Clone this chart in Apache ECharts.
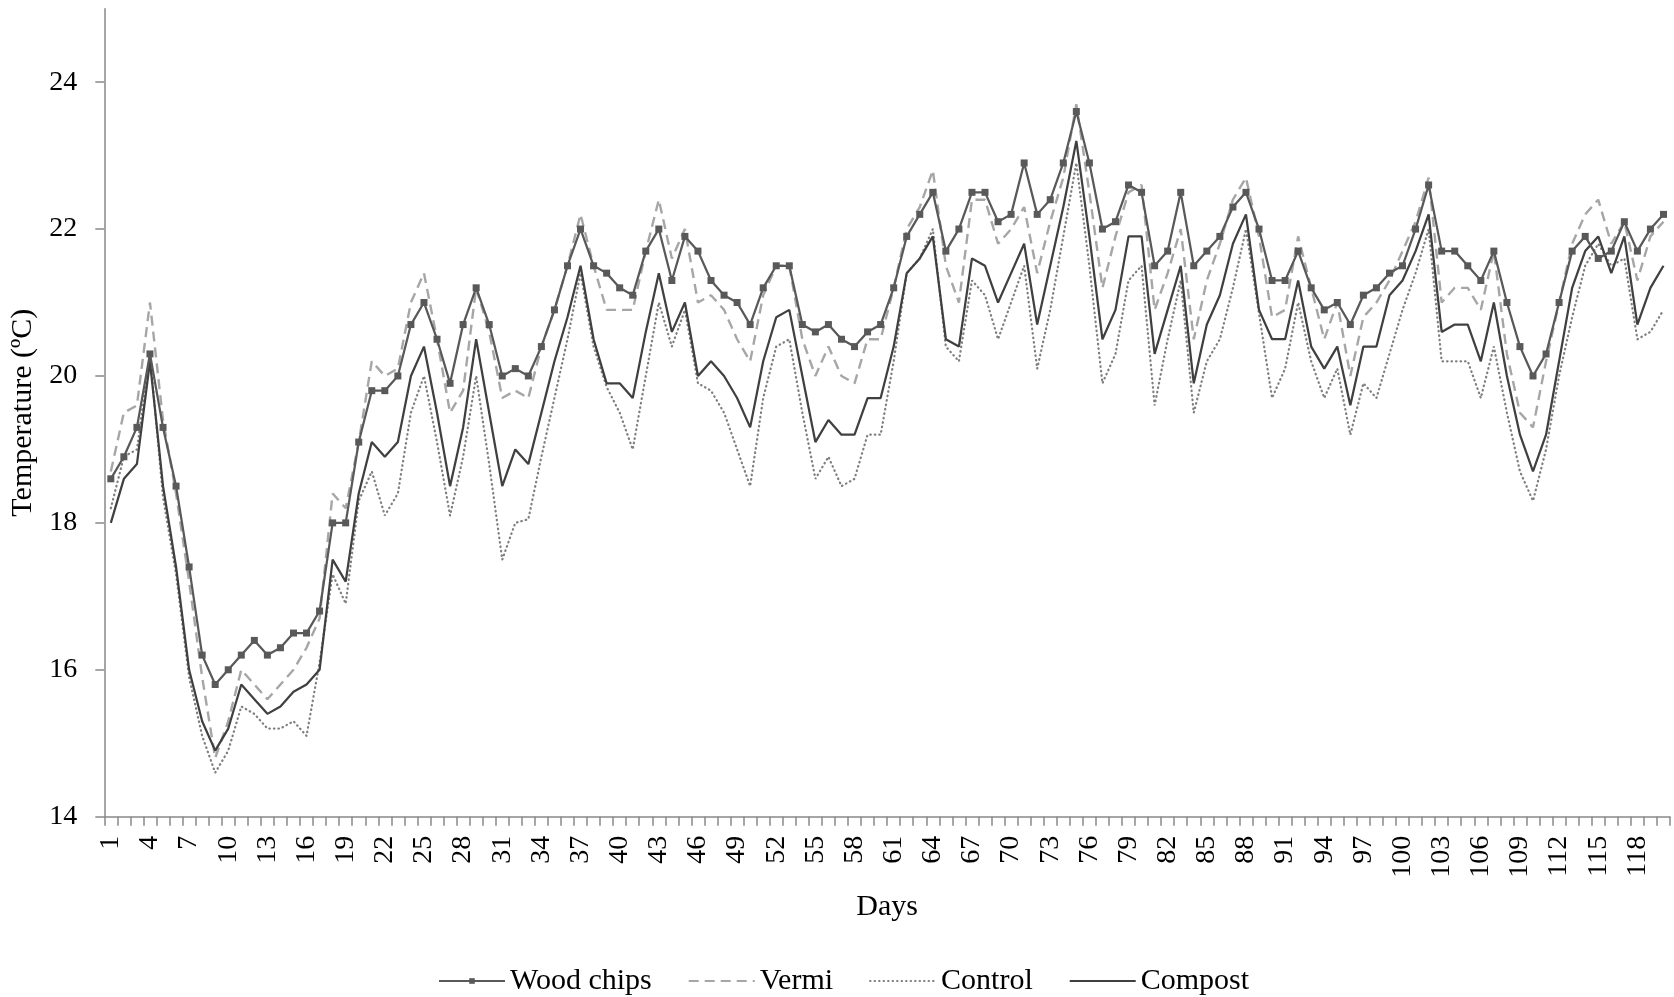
<!DOCTYPE html>
<html>
<head>
<meta charset="utf-8">
<title>Temperature by treatment</title>
<script src="https://cdn.jsdelivr.net/npm/echarts@6/dist/echarts.min.js"></script>
<style>
  html, body { margin: 0; padding: 0; background: #ffffff; }
  #chart { width: 1674px; height: 997px; }
</style>
</head>
<body>
<div id="chart"></div>
<script>
// Day numbers along the horizontal axis (1..120)
const days = Array.from({ length: 120 }, (_, i) => String(i + 1));

// Temperature tick labels on the vertical axis
const tempTicks = [14, 16, 18, 20, 22, 24];

// Daily mean temperature (°C) for each treatment
const woodChips = [
  18.6, 18.9, 19.3, 20.3, 19.3, 18.5, 17.4, 16.2, 15.8, 16.0,
  16.2, 16.4, 16.2, 16.3, 16.5, 16.5, 16.8, 18.0, 18.0, 19.1,
  19.8, 19.8, 20.0, 20.7, 21.0, 20.5, 19.9, 20.7, 21.2, 20.7,
  20.0, 20.1, 20.0, 20.4, 20.9, 21.5, 22.0, 21.5, 21.4, 21.2,
  21.1, 21.7, 22.0, 21.3, 21.9, 21.7, 21.3, 21.1, 21.0, 20.7,
  21.2, 21.5, 21.5, 20.7, 20.6, 20.7, 20.5, 20.4, 20.6, 20.7,
  21.2, 21.9, 22.2, 22.5, 21.7, 22.0, 22.5, 22.5, 22.1, 22.2,
  22.9, 22.2, 22.4, 22.9, 23.6, 22.9, 22.0, 22.1, 22.6, 22.5,
  21.5, 21.7, 22.5, 21.5, 21.7, 21.9, 22.3, 22.5, 22.0, 21.3,
  21.3, 21.7, 21.2, 20.9, 21.0, 20.7, 21.1, 21.2, 21.4, 21.5,
  22.0, 22.6, 21.7, 21.7, 21.5, 21.3, 21.7, 21.0, 20.4, 20.0,
  20.3, 21.0, 21.7, 21.9, 21.6, 21.7, 22.1, 21.7, 22.0, 22.2
];

const vermi = [
  18.7, 19.5, 19.6, 21.0, 19.4, 18.4, 17.2, 15.9, 14.8, 15.3,
  16.0, 15.8, 15.6, 15.8, 16.0, 16.3, 16.7, 18.4, 18.2, 19.1,
  20.2, 20.0, 20.1, 21.0, 21.4, 20.5, 19.5, 19.8, 21.2, 20.6,
  19.7, 19.8, 19.7, 20.4, 20.9, 21.5, 22.2, 21.5, 20.9, 20.9,
  20.9, 21.7, 22.4, 21.6, 22.0, 21.0, 21.1, 20.9, 20.5, 20.2,
  21.1, 21.5, 21.5, 20.5, 20.0, 20.4, 20.0, 19.9, 20.5, 20.5,
  21.2, 22.0, 22.3, 22.8, 21.5, 21.0, 22.4, 22.4, 21.8, 22.0,
  22.3, 21.4, 22.1, 22.7, 23.7, 22.5, 21.2, 21.9, 22.5, 22.6,
  20.9, 21.4, 22.0, 20.5, 21.3, 21.8, 22.4, 22.7, 21.9, 20.8,
  20.9, 21.9, 21.2, 20.5, 21.0, 20.0, 20.8, 21.0, 21.3, 21.7,
  22.1, 22.7, 21.0, 21.2, 21.2, 20.9, 21.7, 20.3, 19.5, 19.3,
  20.2, 21.0, 21.8, 22.2, 22.4, 21.8, 22.1, 21.3, 21.9, 22.1
];

const control = [
  18.2, 18.9, 19.0, 20.3, 18.35, 17.3, 15.9, 15.1, 14.6, 14.9,
  15.5, 15.4, 15.2, 15.2, 15.3, 15.1, 16.1, 17.3, 16.9, 18.3,
  18.7, 18.1, 18.4, 19.5, 20.0, 19.1, 18.1, 18.9, 20.0, 18.8,
  17.5, 18.0, 18.05, 18.9, 19.7, 20.5, 21.4, 20.4, 19.85, 19.5,
  19.0, 20.0, 21.0, 20.4, 20.9, 19.9, 19.8, 19.5, 19.0, 18.5,
  19.7, 20.4, 20.5, 19.5, 18.6, 18.9, 18.5, 18.6, 19.2, 19.2,
  20.2, 21.4, 21.6, 22.0, 20.4, 20.2, 21.3, 21.1, 20.5, 21.0,
  21.5, 20.1, 20.9, 21.9, 22.9, 21.5, 19.9, 20.3, 21.3, 21.5,
  19.6, 20.5, 21.3, 19.5, 20.2, 20.5, 21.2, 22.0, 20.85, 19.7,
  20.1, 21.0, 20.2, 19.7, 20.1, 19.2, 19.9, 19.7, 20.3, 20.9,
  21.4, 22.0, 20.2, 20.2, 20.2, 19.7, 20.4, 19.5, 18.7, 18.3,
  19.0, 20.0, 20.8, 21.5, 21.8, 21.5, 21.6, 20.5, 20.6, 20.9
];

const compost = [
  18.0, 18.6, 18.8, 20.2, 18.5, 17.4, 16.0, 15.3, 14.9, 15.2,
  15.8, 15.6, 15.4, 15.5, 15.7, 15.8, 16.0, 17.5, 17.2, 18.4,
  19.1, 18.9, 19.1, 20.0, 20.4, 19.5, 18.5, 19.3, 20.5, 19.5,
  18.5, 19.0, 18.8, 19.5, 20.2, 20.8, 21.5, 20.5, 19.9, 19.9,
  19.7, 20.6, 21.4, 20.6, 21.0, 20.0, 20.2, 20.0, 19.7, 19.3,
  20.2, 20.8, 20.9, 20.0, 19.1, 19.4, 19.2, 19.2, 19.7, 19.7,
  20.4, 21.4, 21.6, 21.9, 20.5, 20.4, 21.6, 21.5, 21.0, 21.4,
  21.8, 20.7, 21.5, 22.3, 23.2, 21.9, 20.5, 20.9, 21.9, 21.9,
  20.3, 20.9, 21.5, 19.9, 20.7, 21.1, 21.8, 22.2, 20.9, 20.5,
  20.5, 21.3, 20.4, 20.1, 20.4, 19.6, 20.4, 20.4, 21.1, 21.3,
  21.7, 22.2, 20.6, 20.7, 20.7, 20.2, 21.0, 20.0, 19.2, 18.7,
  19.2, 20.2, 21.2, 21.7, 21.9, 21.4, 21.9, 20.7, 21.2, 21.5
];

const seriesNames = ['Wood chips', 'Vermi', 'Control', 'Compost'];

const FONT = '"Liberation Serif", "Times New Roman", "DejaVu Serif", serif';
const AXIS_GREY = '#898989';

const chart = echarts.init(document.getElementById('chart'), null, { renderer: 'canvas' });

// Legend entries: only the wood chips key carries a marker, the others are plain line keys
const legendData = seriesNames.map((name, i) =>
  i === 0 ? { name } : { name, itemStyle: { opacity: 0 } }
);

const option = {
  animation: false,
  backgroundColor: '#ffffff',
  textStyle: { fontFamily: FONT, color: '#000000' },
  grid: { left: 104.3, right: 4, top: 8.7, bottom: 180.3, containLabel: false },
  legend: {
    data: legendData,
    left: 433,
    top: 961,
    itemWidth: 66,
    itemHeight: 7,
    itemGap: 36,
    textStyle: { fontFamily: FONT, fontSize: 30, color: '#000000' }
  },
  xAxis: {
    type: 'category',
    data: days,
    boundaryGap: true,
    name: 'Days',
    nameLocation: 'middle',
    nameGap: 75,
    nameTextStyle: { fontFamily: FONT, fontSize: 30, color: '#000000' },
    axisLine: { show: true, lineStyle: { color: AXIS_GREY, width: 1.5 } },
    axisTick: { show: true, interval: 0, length: 9, alignWithLabel: false,
                lineStyle: { color: AXIS_GREY, width: 1.5 } },
    axisLabel: { interval: 2, rotate: 90, margin: 19, fontFamily: FONT,
                 fontSize: 28, color: '#000000' },
    splitLine: { show: false }
  },
  yAxis: {
    type: 'value',
    min: 14,
    max: 25,
    interval: 2,
    name: 'Temperature (ºC)',
    nameLocation: 'middle',
    nameGap: 66,
    nameRotate: 90,
    nameTextStyle: { fontFamily: FONT, fontSize: 30, color: '#000000' },
    axisLine: { show: true, lineStyle: { color: AXIS_GREY, width: 1.5 } },
    axisTick: { show: true, length: 9, customValues: tempTicks,
                lineStyle: { color: AXIS_GREY, width: 1.5 } },
    axisLabel: { margin: 27, customValues: tempTicks, fontFamily: FONT,
                 fontSize: 28, color: '#000000' },
    splitLine: { show: false }
  },
  series: [
    {
      name: 'Wood chips',
      type: 'line',
      data: woodChips,
      z: 4,
      symbol: 'rect',
      symbolSize: 7,
      showSymbol: true,
      lineStyle: { color: '#595959', width: 2.25 },
      itemStyle: { color: '#595959' },
      emphasis: { disabled: true }
    },
    {
      name: 'Vermi',
      type: 'line',
      data: vermi,
      symbol: 'none',
      lineStyle: { color: '#a6a6a6', width: 2.4, type: [10, 6] },
      itemStyle: { color: '#a6a6a6' },
      emphasis: { disabled: true }
    },
    {
      name: 'Control',
      type: 'line',
      data: control,
      symbol: 'none',
      lineStyle: { color: '#7f7f7f', width: 2.25, type: [0.5, 4], cap: 'round' },
      itemStyle: { color: '#7f7f7f' },
      emphasis: { disabled: true }
    },
    {
      name: 'Compost',
      type: 'line',
      data: compost,
      symbol: 'none',
      lineStyle: { color: '#404040', width: 2.25 },
      itemStyle: { color: '#404040' },
      emphasis: { disabled: true }
    }
  ]
};

chart.setOption(option);
</script>
</body>
</html>
